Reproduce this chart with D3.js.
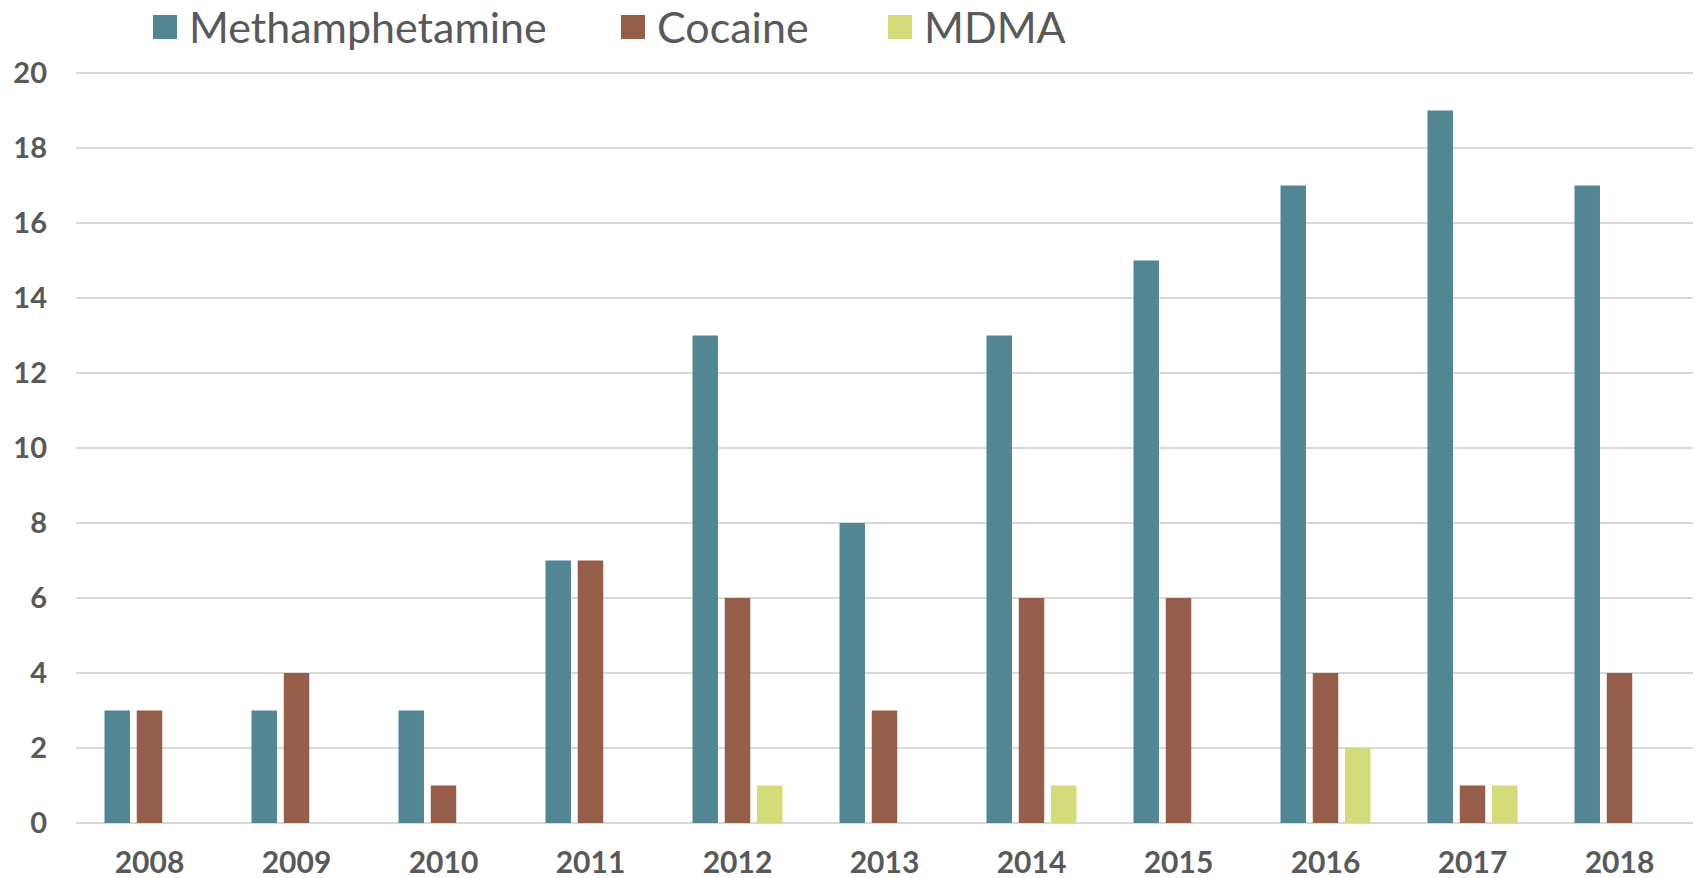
<!DOCTYPE html>
<html>
<head>
<meta charset="utf-8">
<script src="https://cdn.jsdelivr.net/npm/d3@7"></script>
<style>
  html, body { margin: 0; padding: 0; background: #fff; }
  svg { display: block; }
</style>
</head>
<body>
<svg id="chart" width="1700" height="878"></svg>
<script>
const years = ["2008","2009","2010","2011","2012","2013","2014","2015","2016","2017","2018"];
const methamphetamine = [3,3,3,7,13,8,13,15,17,19,17];
const cocaine = [3,4,1,7,6,3,6,6,4,1,4];
const mdma = [0,0,0,0,1,0,1,0,2,1,0];
const seriesNames = ["Methamphetamine","Cocaine","MDMA"];
const seriesColors = ["#538693","#955E4B","#D4DB7A"];
const yTicks = [0,2,4,6,8,10,12,14,16,18,20];

(function () {
const series = [methamphetamine, cocaine, mdma];
const svg = d3.select("#chart");
const mLeft = 76, mRight = 1693, mTop = 73, mBottom = 823;

const x = d3.scaleBand().domain(years).range([mLeft, mRight]).paddingInner(0).paddingOuter(0);
const y = d3.scaleLinear().domain([0, 20]).range([mBottom, mTop]);
const xs = d3.scaleBand().domain(d3.range(3)).range([0, 90]).paddingInner(0.21).paddingOuter(0);

// gridlines
svg.append("g").selectAll("line").data(yTicks).join("line")
  .attr("x1", mLeft).attr("x2", mRight)
  .attr("y1", d => y(d)).attr("y2", d => y(d))
  .attr("stroke", "#D9D9D9").attr("stroke-width", 2);

// y axis labels
svg.append("g").selectAll("text").data(yTicks).join("text")
  .attr("x", 47).attr("y", d => y(d))
  .attr("dy", "0.36em")
  .attr("text-anchor", "end")
  .attr("font-family", "Lato, sans-serif").attr("font-weight", "bold")
  .attr("font-size", 29).attr("fill", "#595959")
  .text(d => d);

// bars
const groupOffset = (x.bandwidth() - 90) / 2;
series.forEach((vals, si) => {
  svg.append("g").selectAll("rect")
    .data(vals.map((v, i) => ({year: years[i], v})).filter(d => d.v > 0))
    .join("rect")
    .attr("x", d => x(d.year) + groupOffset + xs(si))
    .attr("width", xs.bandwidth())
    .attr("y", d => y(d.v))
    .attr("height", d => y(0) - y(d.v))
    .attr("fill", seriesColors[si]);
});

// x axis labels
svg.append("g").selectAll("text").data(years).join("text")
  .attr("x", d => x(d) + x.bandwidth() / 2)
  .attr("y", 873)
  .attr("text-anchor", "middle")
  .attr("font-family", "Lato, sans-serif").attr("font-weight", "bold")
  .attr("font-size", 30).attr("fill", "#595959")
  .text(d => d);

// legend
const legendX = [153, 621, 888];
const legend = svg.append("g");
seriesNames.forEach((name, i) => {
  legend.append("rect")
    .attr("x", legendX[i]).attr("y", 15).attr("width", 24).attr("height", 24)
    .attr("fill", seriesColors[i]);
  legend.append("text")
    .attr("x", legendX[i] + 36).attr("y", 43)
    .attr("font-family", "Lato, sans-serif")
    .attr("font-size", 43).attr("fill", "#595959")
    .text(name);
});
})();
</script>
</body>
</html>
